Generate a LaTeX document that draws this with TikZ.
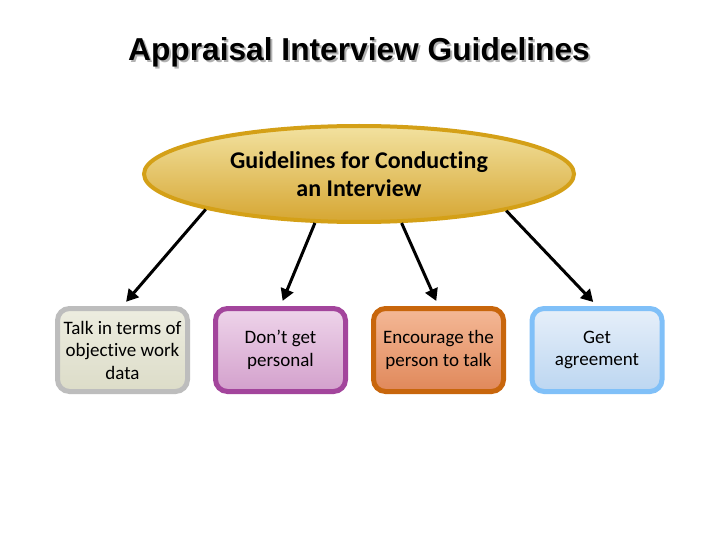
\documentclass[tikz,border=0pt]{standalone}
\usepackage{fontspec}
\setmainfont{Carlito}[Ligatures=NoCommon]
\newfontfamily\titlefont{Liberation Sans}
\usetikzlibrary{arrows.meta,shapes.geometric,shadings}
\definecolor{ellborder}{RGB}{212,160,23}
\definecolor{elltop}{RGB}{242,226,160}
\definecolor{ellbot}{RGB}{214,166,50}
\definecolor{grayb}{RGB}{189,189,189}
\definecolor{graytop}{RGB}{237,237,224}
\definecolor{graybot}{RGB}{220,220,200}
\definecolor{purpb}{RGB}{163,69,156}
\definecolor{purptop}{RGB}{238,212,234}
\definecolor{purpbot}{RGB}{211,160,204}
\definecolor{orab}{RGB}{200,102,12}
\definecolor{oratop}{RGB}{244,184,150}
\definecolor{orabot}{RGB}{224,136,90}
\definecolor{blueb}{RGB}{128,192,248}
\definecolor{bluetop}{RGB}{230,239,249}
\definecolor{bluebot}{RGB}{188,214,241}
\begin{document}
\begin{tikzpicture}[x=1pt,y=-1pt,
  ell/.style={ellipse, draw=ellborder, line width=4pt, top color=elltop, bottom color=ellbot,
    minimum width=430pt, minimum height=96pt, inner sep=0pt, align=center,
    font=\fontsize{24}{28}\selectfont\bfseries},
  card/.style={rectangle, rounded corners=12pt, line width=5pt, minimum width=130pt,
    minimum height=83pt, inner sep=0pt, align=center,
    font=\fontsize{19}{22.5}\selectfont},
  arr/.style={line width=3pt, -{Triangle[length=12pt,width=13pt]}, shorten >=5.5pt},
  ttl/.style={font=\titlefont\bfseries\fontsize{31.7}{38}\selectfont}
]
\useasboundingbox (0,0) rectangle (720,540);
\fill[white] (0,0) rectangle (720,540);
\node[ttl, text=black!30] (tshadow) at (361,54) {Appraisal Interview Guidelines};
\node[ttl, text=black] (title) at (359,52) {Appraisal Interview Guidelines};
\node[ell] (ell) at (359,174) {Guidelines for Conducting\\an Interview};
\node[card, draw=grayb, top color=graytop, bottom color=graybot] (b1) at (122.5,350) {Talk in terms of\\objective work\\data};
\node[card, draw=purpb, top color=purptop, bottom color=purpbot] (b2) at (280.5,350) {Don’t get\\personal};
\node[card, draw=orab, top color=oratop, bottom color=orabot] (b3) at (438.5,350) {Encourage the\\person to talk};
\node[card, draw=blueb, top color=bluetop, bottom color=bluebot] (b4) at (597,350) {Get\\agreement};
\draw[arr] (ell.193.7) -- (b1.north);
\draw[arr] (ell.228.7) -- (b2.north);
\draw[arr] (ell.311.3) -- (b3.north);
\draw[arr] (ell.346.3) -- (b4.north);
\end{tikzpicture}
\end{document}
